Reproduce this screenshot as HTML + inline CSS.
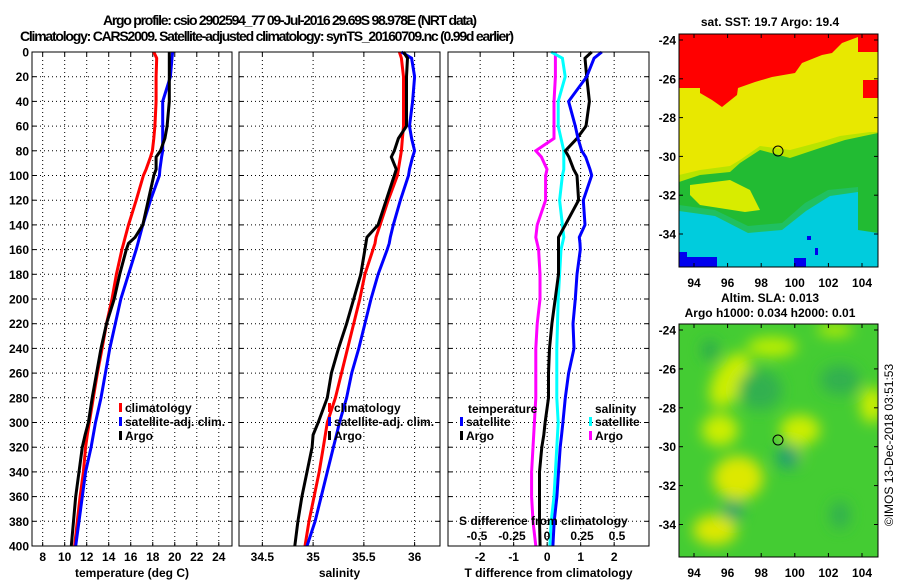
<!DOCTYPE html>
<html><head><meta charset="utf-8"><style>
body{margin:0;background:#fff;}
svg{display:block;font-family:"Liberation Sans",Arial,sans-serif;font-weight:bold;}
</style></head><body>
<svg id="fig" width="900" height="580" viewBox="0 0 900 580" xmlns="http://www.w3.org/2000/svg">
<defs>
<filter id="blur" x="-50%" y="-50%" width="200%" height="200%"><feGaussianBlur stdDeviation="7"/></filter>
<clipPath id="clipTop"><rect x="679" y="34" width="199" height="233"/></clipPath>
<clipPath id="clipBot"><rect x="679" y="324" width="199" height="233"/></clipPath>
</defs>
<text x="290" y="25" font-size="14" text-anchor="middle" textLength="374">Argo profile: csio 2902594_77 09-Jul-2016 29.69S 98.978E (NRT data)</text>
<text x="20" y="41" font-size="14" textLength="494">Climatology: CARS2009. Satellite-adjusted climatology: synTS_20160709.nc (0.99d earlier)</text>
<g id="panels"></g>
<g id="maps">
<g clip-path="url(#clipTop)">
<rect x="679" y="34" width="199" height="233" fill="#e8e800"/>
<polygon fill="#ff0000" points="679,34 679,88 700,88 700,93 712,100 722,107 737,95 738,88 755,82 772,77 795,73 802,63 822,55 832,53 842,43 858,37 858,34"/>
<rect x="863" y="80" width="15" height="18" fill="#ff0000"/>
<rect x="858" y="34" width="20" height="18" fill="#ff0000"/>
<polygon fill="#b8e400" points="679,175 700,170 730,166 740,160 760,146 790,150 820,142 840,136 870,132 878,132 878,170 679,185"/>
<polygon fill="#22bb33" points="679,182 700,175 730,172 740,163 760,150 790,158 820,148 845,140 878,133 878,267 679,267"/>
<polygon fill="#d8ec00" points="690,185 730,180 750,190 760,210 745,212 700,205 690,195"/>
<polygon fill="#00ccdd" points="679,208 715,213 748,230 782,227 805,207 828,193 858,190 858,230 878,233 878,267 679,267"/>
<polygon fill="#20c060" points="679,205 715,210 748,226 782,223 805,203 828,190 858,187 858,192 830,196 806,211 782,230 748,233 715,216 679,211"/>
<rect x="679" y="257" width="38" height="10" fill="#0000ee"/>
<rect x="679" y="252" width="8" height="5" fill="#0000ee"/>
<rect x="794" y="258" width="12" height="9" fill="#0000ee"/>
<rect x="807" y="236" width="4" height="4" fill="#0000ee"/>
<rect x="815" y="248" width="3" height="7" fill="#0000ee"/>
</g>
<rect x="679" y="34" width="199" height="233" fill="none" stroke="#000"/>
<circle cx="778" cy="151" r="5" fill="none" stroke="#000"/>
<text x="770" y="26" font-size="12" text-anchor="middle">sat. SST: 19.7 Argo: 19.4</text>

<g clip-path="url(#clipBot)">
<rect x="679" y="324" width="199" height="233" fill="#44cc33"/>
<g filter="url(#blur)">
<ellipse cx="730" cy="380" rx="16" ry="30" fill="#ccee00" transform="rotate(30 730 380)"/>
<ellipse cx="720" cy="430" rx="18" ry="16" fill="#ccee00"/>
<ellipse cx="738" cy="478" rx="25" ry="22" fill="#dde800"/>
<ellipse cx="715" cy="530" rx="22" ry="15" fill="#dde800"/>
<ellipse cx="800" cy="430" rx="20" ry="15" fill="#ccee00"/>
<ellipse cx="772" cy="347" rx="25" ry="10" fill="#bbee00"/>
<ellipse cx="872" cy="405" rx="12" ry="18" fill="#ccee00"/>
<ellipse cx="835" cy="330" rx="18" ry="6" fill="#bbee00"/>
<ellipse cx="793" cy="455" rx="10" ry="10" fill="#bbee00"/>
<ellipse cx="710" cy="350" rx="8" ry="10" fill="#2aa850"/>
<ellipse cx="788" cy="457" rx="12" ry="12" fill="#20a070"/>
<ellipse cx="733" cy="510" rx="10" ry="10" fill="#20a070"/>
<ellipse cx="840" cy="515" rx="10" ry="14" fill="#30b050"/>
<ellipse cx="760" cy="390" rx="22" ry="20" fill="#33b050"/>
<ellipse cx="840" cy="380" rx="20" ry="15" fill="#33b050"/>
</g>
</g>
<rect x="679" y="324" width="199" height="233" fill="none" stroke="#000"/>
<circle cx="778" cy="440" r="5" fill="none" stroke="#000"/>
<text x="770" y="302" font-size="12" text-anchor="middle">Altim. SLA: 0.013</text>
<text x="770" y="317" font-size="12" text-anchor="middle">Argo h1000: 0.034 h2000: 0.01</text>
<text x="0" y="0" font-size="12" text-anchor="middle" font-weight="normal" transform="translate(893 445) rotate(-90)">©IMOS 13-Dec-2018 03:51:53</text>
</g>
</svg>
<script>
// Depth levels (m)
const depths = [0,5,20,40,60,70,80,85,95,100,120,140,150,155,160,180,200,220,240,260,280,300,310,320,340,360,380,400];
// Temperature panel series
const tempClim = [18.1,18.36,18.3,18.3,18.2,18.1,17.97,17.8,17.4,17.15,16.5,15.8,15.5,15.35,15.2,14.7,14.3,13.8,13.4,12.97,12.6,12.24,12.05,11.9,11.7,11.4,11.15,10.9];
const tempSat = [19.8,19.75,19.6,18.9,18.9,18.9,18.9,18.8,18.65,18.6,17.8,17.1,16.8,16.65,16.5,15.8,15.1,14.6,14.1,13.7,13.3,12.8,12.6,12.4,11.9,11.6,11.3,11.0];
const tempArgo = [19.5,19.5,19.5,19.5,19.3,19.1,18.7,18.3,18.3,18.1,17.6,17.1,16.4,15.8,15.6,15.0,14.5,13.8,13.3,12.9,12.5,12.15,11.85,11.6,11.3,11.0,10.8,10.6];
// Salinity panel series
const salClim = [35.85,35.87,35.89,35.89,35.89,35.88,35.87,35.86,35.84,35.83,35.74,35.66,35.62,35.61,35.59,35.51,35.46,35.40,35.34,35.28,35.22,35.14,35.12,35.10,35.06,35.01,34.96,34.92];
const salSat = [35.87,35.97,36.0,35.98,35.95,35.97,36.0,35.98,35.95,35.94,35.86,35.79,35.76,35.75,35.73,35.64,35.57,35.51,35.45,35.38,35.33,35.26,35.23,35.20,35.14,35.08,35.02,34.94];
const salArgo = [35.89,35.93,35.92,35.92,35.92,35.84,35.80,35.77,35.82,35.80,35.72,35.64,35.53,35.52,35.51,35.47,35.40,35.33,35.25,35.18,35.14,35.05,35.00,34.99,34.94,34.89,34.85,34.82];
// Difference panel series
const dTSat = [1.63,1.40,1.18,0.64,0.84,0.92,1.03,1.15,1.28,1.33,1.08,1.13,0.96,0.98,0.99,0.89,0.84,0.77,0.80,0.64,0.54,0.47,0.43,0.39,0.34,0.29,0.21,0.17];
const dTArgo = [1.33,1.13,1.18,1.26,1.16,0.89,0.54,0.65,0.79,0.89,0.94,0.54,0.34,0.34,0.34,0.34,0.24,0.14,0.07,0.04,0.04,-0.06,-0.1,-0.16,-0.23,-0.23,-0.23,-0.21];
const dSSat = [0.03,0.11,0.13,0.08,0.08,0.10,0.12,0.12,0.12,0.11,0.09,0.11,0.12,0.11,0.10,0.09,0.08,0.075,0.07,0.07,0.07,0.08,0.075,0.07,0.06,0.05,0.03,0.02];
const dSArgo = [0.06,0.06,0.06,0.05,0.05,0.05,-0.08,-0.04,0,-0.01,-0.01,-0.07,-0.08,-0.07,-0.06,-0.05,-0.05,-0.07,-0.08,-0.08,-0.08,-0.09,-0.095,-0.10,-0.11,-0.11,-0.10,-0.08];
// Tick labels
const depthTicks = [0,20,40,60,80,100,120,140,160,180,200,220,240,260,280,300,320,340,360,380,400];
const tTicks = [8,10,12,14,16,18,20,22,24];
const sTicks = [34.5,35,35.5,36];
const dTTicks = [-2,-1,0,1,2];
const dSTicks = [-0.5,-0.25,0,0.25,0.5];
const dSTickLabels = ['-0.5','-0.25','0','0.25','0.5'];
const latTicks = [-24,-26,-28,-30,-32,-34];
const lonTicks = [94,96,98,100,102,104];

const NS='http://www.w3.org/2000/svg';
const root=document.getElementById('panels');
const maps=document.getElementById('maps');
const Y0=52,Y1=546;
const yD=d=>Y0+d*(Y1-Y0)/400;
function mk(tag,attrs,parent,text){const e=document.createElementNS(NS,tag);for(const k in attrs)e.setAttribute(k,attrs[k]);if(text!==undefined)e.textContent=text;(parent||root).appendChild(e);return e;}

const P=[
 {name:'temperature',x0:32,x1:232,lo:7.03,hi:25.2,ticks:tTicks,labels:tTicks.map(String),xlabel:'temperature (deg C)'},
 {name:'salinity',x0:239,x1:440,lo:34.27,hi:36.25,ticks:sTicks,labels:sTicks.map(String),xlabel:'salinity'},
 {name:'difference',x0:448,x1:649,lo:-2.96,hi:3.04,ticks:dTTicks,labels:dTTicks.map(String),xlabel:'T difference from climatology'}
];
P.forEach(p=>{p.sx=v=>p.x0+(v-p.lo)*(p.x1-p.x0)/(p.hi-p.lo);});
const sxS=v=>547+v*140;

P.forEach((p,i)=>{
  const g=mk('g',{});
  
  
  p.g=g;
  depthTicks.forEach(d=>{
    if(d>0&&d<400){const l=mk('line',{x1:p.x0,x2:p.x1,y1:yD(d),y2:yD(d),stroke:'#000','stroke-dasharray':'1,3'},g);
      }
    const tk=mk('line',{x1:p.x0,x2:p.x0+4,y1:yD(d),y2:yD(d),stroke:'#000'},g);
    
    const tk2=mk('line',{x1:p.x1-4,x2:p.x1,y1:yD(d),y2:yD(d),stroke:'#000'},g);
    
  });
  p.ticks.forEach((t,j)=>{
    const x=p.sx(t);
    const l=mk('line',{x1:x,x2:x,y1:Y0,y2:Y1,stroke:'#000','stroke-dasharray':'1,3'},g);
    
    const t1=mk('line',{x1:x,x2:x,y1:Y0,y2:Y0+4,stroke:'#000'},g);
    
    const t2=mk('line',{x1:x,x2:x,y1:Y1-4,y2:Y1,stroke:'#000'},g);
    
    const tl=mk('text',{x:x,y:561,'font-size':12,'text-anchor':'middle'},g,p.labels[j]);
    
  });
  const xl=mk('text',{x:(p.x0+p.x1)/2,y:577,'font-size':12,'text-anchor':'middle'},g,p.xlabel);
  
});
depthTicks.forEach(d=>{
  const t=mk('text',{x:29,y:yD(d)+4.5,'font-size':12,'text-anchor':'end'},root,String(d));
  
});

function series(g,vals,sx,color,name){
  const pts=vals.map((v,i)=>sx(v).toFixed(1)+','+yD(depths[i]).toFixed(1)).join(' ');
  const l=mk('polyline',{points:pts,fill:'none',stroke:color,'stroke-width':3,'stroke-linejoin':'miter'},g);
  
  
}
series(P[0].g,tempClim,P[0].sx,'#ff0000','temp-climatology-line');
series(P[0].g,tempSat,P[0].sx,'#0000ff','temp-satellite-line');
series(P[0].g,tempArgo,P[0].sx,'#000000','temp-argo-line');
series(P[1].g,salClim,P[1].sx,'#ff0000','sal-climatology-line');
series(P[1].g,salSat,P[1].sx,'#0000ff','sal-satellite-line');
series(P[1].g,salArgo,P[1].sx,'#000000','sal-argo-line');
series(P[2].g,dSArgo,sxS,'#ff00ff','sdiff-argo-line');
series(P[2].g,dSSat,sxS,'#00ffff','sdiff-satellite-line');
series(P[2].g,dTArgo,P[2].sx,'#000000','tdiff-argo-line');
series(P[2].g,dTSat,P[2].sx,'#0000ff','tdiff-satellite-line');

P.forEach(p=>{const r=mk('rect',{x:p.x0,y:Y0,width:p.x1-p.x0,height:Y1-Y0,fill:'none',stroke:'#000'},p.g);
  });

function legend(g,x,y,color,label,name){
  const e=mk('g',{},g);
  
  
  mk('rect',{x:x,y:y-9,width:3,height:9,fill:color},e);
  mk('text',{x:x+6,y:y,'font-size':12},e,label);
}
legend(P[0].g,119,412,'#ff0000','climatology','legend-entry-climatology');
legend(P[0].g,119,426,'#0000ff','satellite-adj. clim.','legend-entry-satellite');
legend(P[0].g,119,440,'#000000','Argo','legend-entry-argo');
legend(P[1].g,328,412,'#ff0000','climatology','legend-entry-climatology');
legend(P[1].g,328,426,'#0000ff','satellite-adj. clim.','legend-entry-satellite');
legend(P[1].g,328,440,'#000000','Argo','legend-entry-argo');
mk('text',{x:468,y:413,'font-size':12},P[2].g,'temperature');
mk('text',{x:595,y:413,'font-size':12},P[2].g,'salinity');
legend(P[2].g,460,426,'#0000ff','satellite','legend-entry-t-satellite');
legend(P[2].g,460,440,'#000000','Argo','legend-entry-t-argo');
legend(P[2].g,589,426,'#00ffff','satellite','legend-entry-s-satellite');
legend(P[2].g,589,440,'#ff00ff','Argo','legend-entry-s-argo');
const st=mk('text',{x:459,y:525,'font-size':12},P[2].g,'S difference from climatology');

dSTicks.forEach((v,j)=>{const t=mk('text',{x:sxS(v),y:540,'font-size':12,'text-anchor':'middle'},P[2].g,dSTickLabels[j]);
  });

// map axes
[[40,19.4,267,287],[330,19.45,557,577]].forEach(([ly0,lstep,bot,lab])=>{
  const top=bot-233;
  latTicks.forEach(lat=>{const y=ly0+(-24-lat)*lstep;
    mk('line',{x1:679,x2:683,y1:y,y2:y,stroke:'#000'},maps);
    mk('line',{x1:874,x2:878,y1:y,y2:y,stroke:'#000'},maps);
    const t=mk('text',{x:676,y:y+4.5,'font-size':12,'text-anchor':'end'},maps,String(lat));
    });
  lonTicks.forEach(lon=>{const x=694+(lon-94)*16.8;
    mk('line',{x1:x,x2:x,y1:top,y2:top+4,stroke:'#000'},maps);
    mk('line',{x1:x,x2:x,y1:bot-4,y2:bot,stroke:'#000'},maps);
    const t=mk('text',{x:x,y:lab,'font-size':12,'text-anchor':'middle'},maps,String(lon));
    });
});
</script>
</body></html>
